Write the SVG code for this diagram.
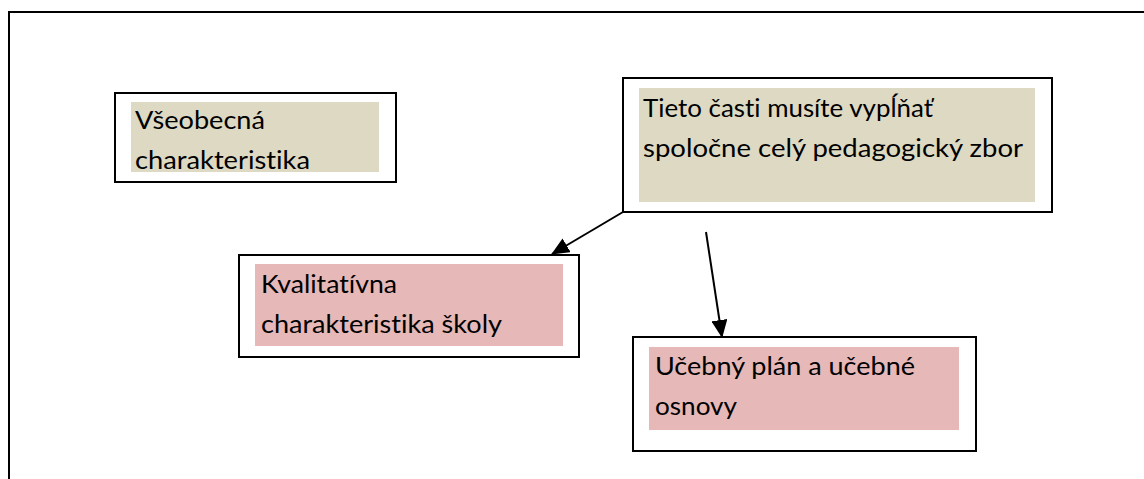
<svg xmlns="http://www.w3.org/2000/svg" width="1144" height="479" viewBox="0 0 1144 479">
<style>
.frame{fill:none;stroke:#000;stroke-width:2}
.box{fill:#fff;stroke:#000;stroke-width:2}
.tan{fill:#DDD9C3}
.pink{fill:#E6B8B7}
.t{font-family:Lato,"Open Sans","Liberation Sans",sans-serif;font-size:25px;fill:#000;font-variant-ligatures:none}
.conn{stroke:#000;stroke-width:2;fill:none}
</style>
<defs>
<marker id="ah2" viewBox="0 0 18 16" refX="17" refY="8" markerWidth="18" markerHeight="16" orient="auto" markerUnits="userSpaceOnUse">
<path d="M0,0 L18,8 L0,16 z" fill="#000"/>
</marker>
</defs>
<rect width="1144" height="479" fill="#fff"/>
<path class="frame" d="M9,479 V12 H1144"/>
<g id="n1">
<rect class="box" x="115" y="93" width="281" height="89"/>
<rect class="tan" x="131" y="102" width="248" height="70"/>
<text class="t" x="135" y="129" textLength="130" lengthAdjust="spacingAndGlyphs">Všeobecná</text>
<text class="t" x="135" y="169" textLength="175" lengthAdjust="spacingAndGlyphs">charakteristika</text>
</g>
<g id="n2">
<rect class="box" x="623" y="78" width="429" height="134"/>
<rect class="tan" x="639" y="88" width="396" height="114"/>
<text class="t" x="643" y="117" textLength="290" lengthAdjust="spacingAndGlyphs">Tieto časti musíte vypĺňať</text>
<text class="t" x="643" y="157" textLength="380" lengthAdjust="spacingAndGlyphs">spoločne celý pedagogický zbor</text>
</g>
<g id="n3">
<rect class="box" x="239" y="255" width="340" height="102"/>
<rect class="pink" x="255" y="264" width="308" height="82"/>
<text class="t" x="261" y="293" textLength="136" lengthAdjust="spacingAndGlyphs">Kvalitatívna</text>
<text class="t" x="261" y="333" textLength="241" lengthAdjust="spacingAndGlyphs">charakteristika školy</text>
</g>
<g id="n4">
<rect class="box" x="633" y="337" width="343" height="114"/>
<rect class="pink" x="649" y="347" width="310" height="83"/>
<text class="t" x="655" y="375" textLength="260" lengthAdjust="spacingAndGlyphs">Učebný plán a učebné</text>
<text class="t" x="655" y="415" textLength="82" lengthAdjust="spacingAndGlyphs">osnovy</text>
</g>
<g id="connectors">
<line class="conn" x1="623" y1="212" x2="552" y2="254" marker-end="url(#ah2)"/>
<line class="conn" x1="706" y1="232" x2="722" y2="337" marker-end="url(#ah2)"/>
</g>
</svg>
